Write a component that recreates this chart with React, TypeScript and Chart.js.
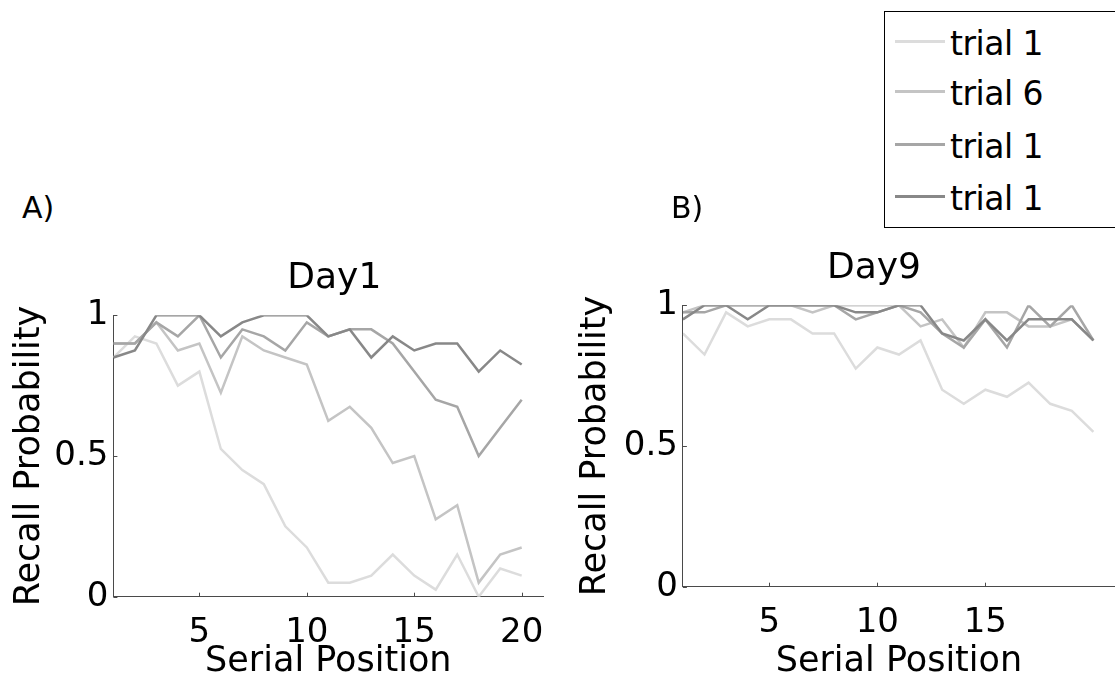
import React, { useEffect, useRef } from 'react';
import { Chart, registerables } from 'chart.js';

Chart.register(...registerables);

// ---------------- data ----------------
const serialPositions = [1, 2, 3, 4, 5, 6, 7, 8, 9, 10, 11, 12, 13, 14, 15, 16, 17, 18, 19, 20];
const seriesNames = ['trial 1', 'trial 6', 'trial 1', 'trial 1'];

const day1Trial1A = [0.85, 0.925, 0.9, 0.75, 0.8, 0.525, 0.45, 0.4, 0.25, 0.175, 0.05, 0.05, 0.075, 0.15, 0.075, 0.025, 0.15, 0, 0.1, 0.075];
const day1Trial6 = [0.9, 0.9, 0.975, 0.875, 0.9, 0.725, 0.925, 0.875, 0.85, 0.825, 0.625, 0.675, 0.6, 0.475, 0.5, 0.275, 0.325, 0.05, 0.15, 0.175];
const day1Trial1B = [0.9, 0.9, 0.975, 0.925, 1, 0.85, 0.95, 0.925, 0.875, 0.975, 0.925, 0.95, 0.95, 0.9, 0.8, 0.7, 0.675, 0.5, 0.6, 0.7];
const day1Trial1C = [0.85, 0.875, 1, 1, 1, 0.925, 0.975, 1, 1, 1, 0.925, 0.95, 0.85, 0.925, 0.875, 0.9, 0.9, 0.8, 0.875, 0.825];

const day9Trial1A = [0.9, 0.825, 0.975, 0.925, 0.95, 0.95, 0.9, 0.9, 0.775, 0.85, 0.825, 0.875, 0.7, 0.65, 0.7, 0.675, 0.725, 0.65, 0.625, 0.55];
const day9Trial6 = [0.975, 1, 1, 1, 1, 1, 0.975, 1, 1, 1, 1, 0.925, 0.95, 0.85, 0.975, 0.975, 0.925, 0.925, 0.95, 0.875];
const day9Trial1B = [0.975, 0.975, 1, 1, 1, 1, 1, 1, 0.95, 0.975, 1, 0.975, 0.9, 0.85, 0.95, 0.85, 1, 0.925, 1, 0.875];
const day9Trial1C = [0.95, 1, 1, 0.95, 1, 1, 1, 1, 0.975, 0.975, 1, 1, 0.9, 0.875, 0.95, 0.875, 0.95, 0.95, 0.95, 0.875];

const xTicksDay1 = [5, 10, 15, 20];
const xTicksDay9 = [5, 10, 15];
const yTicks = [0, 0.5, 1];

// ---------------- styles ----------------
const FONT = '"DejaVu Sans", sans-serif';
const lineColors = ['#dcdcdc', '#c4c4c4', '#a6a6a6', '#888888'];
const AXIS_COLOR = '#4a4a4a';

const panelPlugin = {
  id: 'panelDecor',
  afterDraw(chart: any, _args: any, opts: any) {
    const { ctx, chartArea, scales } = chart;
    ctx.save();
    ctx.strokeStyle = AXIS_COLOR;
    ctx.lineWidth = 1;
    for (const t of scales.x.ticks) {
      const px = Math.round(scales.x.getPixelForValue(t.value)) + 0.5;
      ctx.beginPath();
      ctx.moveTo(px, chartArea.bottom);
      ctx.lineTo(px, chartArea.bottom - 4);
      ctx.stroke();
    }
    for (const t of scales.y.ticks) {
      const py = Math.round(scales.y.getPixelForValue(t.value)) + 0.5;
      ctx.beginPath();
      ctx.moveTo(chartArea.left, py);
      ctx.lineTo(chartArea.left + 4, py);
      ctx.stroke();
    }
    ctx.fillStyle = '#000';
    ctx.font = `36px ${FONT}`;
    ctx.textAlign = 'center';
    ctx.textBaseline = 'alphabetic';
    ctx.fillText(opts.text, (chartArea.left + chartArea.right) / 2 + opts.dx, chartArea.top - opts.dy);
    ctx.restore();
  },
};

type PanelProps = {
  left: number;
  top: number;
  width: number;
  height: number;
  series: number[][];
  xTicks: number[];
  title: string;
  titleDx: number;
  padTop: number;
  padRight: number;
  yAxisWidth: number;
  xAxisHeight: number;
};

function Panel(p: PanelProps) {
  const ref = useRef<HTMLCanvasElement | null>(null);
  useEffect(() => {
    if (!ref.current) return;
    const datasets = p.series.map((vals, si) => ({
      label: seriesNames[si],
      data: serialPositions.map((x, i) => ({ x, y: vals[i] })),
      borderColor: lineColors[si],
      backgroundColor: lineColors[si],
      borderWidth: 2.5,
      pointRadius: 0,
      tension: 0,
      fill: false,
      order: p.series.length - si,
    }));
    const chart = new Chart(ref.current, {
      type: 'line',
      data: { datasets },
      plugins: [panelPlugin],
      options: {
        animation: false,
        responsive: false,
        layout: { padding: { top: p.padTop, right: p.padRight, bottom: 0, left: 0 } },
        plugins: {
          legend: { display: false },
          tooltip: { enabled: false },
          panelDecor: { text: p.title, dx: p.titleDx, dy: 27 },
        } as any,
        scales: {
          x: {
            type: 'linear',
            min: 1,
            max: 21,
            afterBuildTicks: (s: any) => {
              s.ticks = p.xTicks.map((v) => ({ value: v }));
            },
            afterFit: (s: any) => {
              s.height = p.xAxisHeight;
            },
            grid: { display: false, drawTicks: false },
            border: { display: true, color: AXIS_COLOR, width: 1 },
            ticks: {
              autoSkip: false,
              maxRotation: 0,
              padding: 16,
              color: '#000',
              font: { family: FONT, size: 34, lineHeight: 1.2 },
              callback: (v: any) => String(v),
            },
            title: {
              display: true,
              text: 'Serial Position',
              color: '#000',
              font: { family: FONT, size: 35, lineHeight: 1.0 },
              padding: { top: 0, bottom: 1 },
            },
          },
          y: {
            type: 'linear',
            min: 0,
            max: 1,
            afterBuildTicks: (s: any) => {
              s.ticks = yTicks.map((v) => ({ value: v }));
            },
            afterFit: (s: any) => {
              s.width = p.yAxisWidth;
            },
            grid: { display: false, drawTicks: false },
            border: { display: true, color: AXIS_COLOR, width: 1 },
            ticks: {
              padding: 5,
              color: '#000',
              font: { family: FONT, size: 34, lineHeight: 1.2 },
              callback: (v: any) => String(v),
            },
            title: {
              display: true,
              text: 'Recall Probability',
              color: '#000',
              font: { family: FONT, size: 35, lineHeight: 1.2 },
              padding: { top: 9, bottom: 0 },
            },
          },
        },
      } as any,
    });
    return () => chart.destroy();
  }, []);
  return (
    <canvas
      ref={ref}
      width={p.width}
      height={p.height}
      style={{ position: 'absolute', left: p.left, top: p.top, width: p.width, height: p.height }}
    />
  );
}

const labelStyle: React.CSSProperties = {
  position: 'absolute',
  fontFamily: FONT,
  fontSize: 30,
  lineHeight: '30px',
  color: '#000',
  whiteSpace: 'nowrap',
};

const legendRowBaselines = [55, 105, 158, 210];

export default function App() {
  return (
    <div
      style={{
        position: 'absolute',
        left: 0,
        top: 0,
        width: 1115,
        height: 680,
        overflow: 'hidden',
        background: '#fff',
      }}
    >
      <Panel
        left={0}
        top={230}
        width={560}
        height={450}
        series={[day1Trial1A, day1Trial6, day1Trial1B, day1Trial1C]}
        xTicks={xTicksDay1}
        title="Day1"
        titleDx={6}
        padTop={85.3}
        padRight={13.6}
        yAxisWidth={113.4}
        xAxisHeight={83.3}
      />
      <Panel
        left={566}
        top={180}
        width={549}
        height={500}
        series={[day9Trial1A, day9Trial6, day9Trial1B, day9Trial1C]}
        xTicks={xTicksDay9}
        title="Day9"
        titleDx={-25}
        padTop={125.3}
        padRight={0}
        yAxisWidth={116.9}
        xAxisHeight={93.3}
      />
      <div style={{ ...labelStyle, left: 22, top: 193 }}>A)</div>
      <div style={{ ...labelStyle, left: 671, top: 193 }}>B)</div>
      <div
        style={{
          position: 'absolute',
          left: 884,
          top: 11,
          width: 232,
          height: 215,
          border: '1px solid #000',
          background: '#fff',
        }}
      />
      {seriesNames.map((name, i) => (
        <React.Fragment key={i}>
          <div
            style={{
              position: 'absolute',
              left: 895,
              top: legendRowBaselines[i] - 15,
              width: 50,
              height: 3,
              background: lineColors[i],
            }}
          />
          <div
            style={{
              position: 'absolute',
              left: 950,
              top: legendRowBaselines[i] - 28,
              fontFamily: FONT,
              fontSize: 33,
              lineHeight: '33px',
              letterSpacing: '-0.5px',
              color: '#000',
              whiteSpace: 'nowrap',
            }}
          >
            {name}
          </div>
        </React.Fragment>
      ))}
    </div>
  );
}
